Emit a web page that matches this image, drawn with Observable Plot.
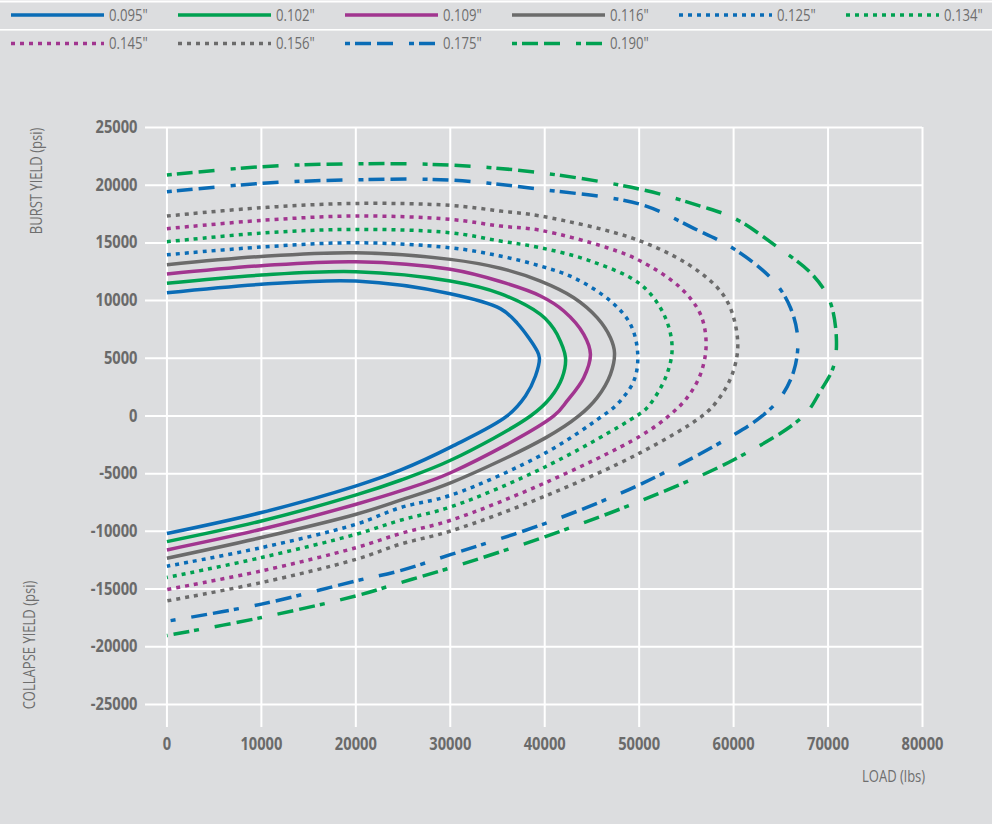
<!DOCTYPE html>
<html><head><meta charset="utf-8">
<script src="https://cdn.jsdelivr.net/npm/d3@7"></script>
<script src="https://cdn.jsdelivr.net/npm/@observablehq/plot@0.6"></script>
<style>
html,body{margin:0;padding:0;background:#dcdddf;}
#wrap{position:relative;width:992px;height:824px;background:#dcdddf;overflow:hidden;font-family:"Open Sans",sans-serif;}
#legend{position:absolute;left:0;top:0;}
#chart{position:absolute;left:0;top:60px;}
.lab{position:absolute;color:#6e6e6e;font-size:15.5px;font-weight:400;white-space:nowrap;line-height:1;}
.rot{transform:translate(-50%,-50%) rotate(-90deg) scale(0.84,1);}
.sq{transform-origin:right center;transform:scale(0.84,1);}
</style></head><body>
<div id="wrap">
<svg id="legend" width="992" height="60"></svg>
<div id="chart"></div>
<div class="lab rot" style="left:37px;top:181px;">BURST YIELD (psi)</div>
<div class="lab rot" style="left:30px;top:645px;">COLLAPSE YIELD (psi)</div>
<div class="lab sq" style="right:67px;top:769px;">LOAD (lbs)</div>
</div>
<script>
// ---- data ----
const thickness = ['0.095"','0.102"','0.109"','0.116"','0.125"','0.134"','0.145"','0.156"','0.175"','0.190"'];
const xTicks = [0,10000,20000,30000,40000,50000,60000,70000,80000];
const yTicks = [25000,20000,15000,10000,5000,0,-5000,-10000,-15000,-20000,-25000];

const load095 = [0,10000,20000,30000,35300,37080,39200,39440,39020,37960,36020,30090,24720,20040,10010,0];
const psi095  = [10680,11410,11690,10590,9300,8050,5630,5020,3460,1730,0,-2680,-4700,-6060,-8370,-10190];

const load102 = [0,10000,20000,30000,35300,39550,40610,41310,42200,41850,40610,38490,30090,24720,20040,10010,0];
const psi102  = [11500,12210,12500,11690,10600,8810,7940,7080,5050,3320,1590,0,-3820,-5570,-6840,-9100,-10890];

const load109 = [0,10000,20000,30000,35300,39550,42020,44130,44840,44130,42370,40960,30090,24720,20040,10010,0];
const psi109  = [12300,13020,13370,12710,11650,10400,9100,7080,5340,3320,1300,0,-4900,-6500,-7650,-9820,-11610];

const load116 = [0,10000,20000,30000,35300,39550,43080,45550,46960,47390,46960,45550,43600,40080,30090,24720,20040,10010,0];
const psi116  = [13110,13830,14150,13570,12800,11690,10250,8520,6780,5480,3610,1590,0,-1900,-5780,-7300,-8520,-10540,-12330];

const load125 = [0,10000,20000,30000,35300,39550,43080,46960,49080,49850,49430,47670,46110,40080,30090,24720,20040,10010,0];
const psi125  = [13970,14640,15010,14580,13860,12990,11980,9960,7940,5340,3030,1010,0,-3200,-6860,-7940,-9380,-11410,-13020];

const load134 = [0,10000,20000,30000,35300,39550,44840,50140,52610,53490,52790,50850,49710,40080,30090,24720,20040,10010,0];
const psi134  = [15100,15850,16170,15880,15160,14580,13430,11410,8810,5920,3320,720,0,-4400,-7870,-9040,-10250,-12270,-14000];

const load145 = [0,10000,20000,30000,35300,39550,46610,50140,54370,56490,57090,56490,55080,53130,50140,40080,30090,24720,20040,10010,0];
const psi145  = [16230,16950,17330,17040,16460,16090,14580,13430,11110,8810,6210,3610,1590,0,-1730,-5780,-9030,-10190,-11410,-13430,-15040];

const load156 = [0,10000,20000,30000,35300,39550,50140,56490,59310,60440,59850,58260,56670,50140,40080,30090,24720,20040,10010,0];
const psi156  = [17330,18050,18420,18250,17760,17330,15160,12410,9960,6350,3610,1300,0,-3180,-6930,-9960,-11110,-12420,-14440,-16030];

const load175 = [0,10000,20000,30000,39550,50140,55780,60120,64250,66020,66800,66370,64960,63020,60120,50140,40080,30090,24720,20040,10010,0];
const psi175  = [19430,20160,20470,20440,19640,18340,16260,14440,11690,9380,6640,3900,1590,0,-1590,-5920,-9300,-12000,-13400,-14290,-16310,-17790];

const load190 = [0,10000,20000,30000,39550,50140,56490,60120,64250,68320,70190,70890,70540,69200,67400,60120,50140,40080,30090,24720,20040,10010,0];
const psi190  = [20880,21600,21860,21740,21080,19640,18190,17120,14870,12270,9960,6500,4190,2170,0,-3750,-7360,-10450,-13140,-14450,-15590,-17470,-19030];

// ---- styles ----
const BLUE="#0a6cb6", GREEN="#00a151", PURPLE="#a1358f", GRAY="#6b6b6b";
const SOLID=null, DOT="4,5", DASHDOT="5,5,16,6,16,16";
const loads=[load095,load102,load109,load116,load125,load134,load145,load156,load175,load190];
const psis=[psi095,psi102,psi109,psi116,psi125,psi134,psi145,psi156,psi175,psi190];
const colors=[BLUE,GREEN,PURPLE,GRAY,BLUE,GREEN,PURPLE,GRAY,BLUE,GREEN];
const dashes=[SOLID,SOLID,SOLID,SOLID,DOT,DOT,DOT,DOT,DASHDOT,DASHDOT];

const lineMarks = thickness.map((t,i)=>Plot.line(loads[i], {
  x: loads[i], y: psis[i], stroke: colors[i], strokeWidth: 3.5,
  strokeDasharray: dashes[i] || undefined, strokeLinecap: "butt", strokeLinejoin: "round",
  curve: "catmull-rom"
}));

const chart = Plot.plot({
  width: 992, height: 764,
  marginLeft: 145, marginRight: 70, marginTop: 67, marginBottom: 97,
  x: {domain: [-2270, 80000]},
  y: {domain: [-27000, 25000]},
  style: {background: "transparent", fontFamily: '"Open Sans",sans-serif', fontSize: "17.5px", fontWeight: "bold", color: "#6a6a6a", overflow: "visible"},
  marks: [
    Plot.gridX(xTicks, {stroke: "#ffffff", strokeOpacity: 1, strokeWidth: 2}),
    Plot.gridY(yTicks, {stroke: "#ffffff", strokeOpacity: 1, strokeWidth: 2}),
    Plot.axisX(xTicks, {tickSize: 0, tickPadding: 10, label: null, tickFormat: d => String(d)}),
    Plot.axisY(yTicks, {tickSize: 0, tickPadding: 8, label: null, tickFormat: d => String(d)}),
    ...lineMarks
  ]
});
document.getElementById("chart").appendChild(chart);

// condense tick label glyphs horizontally (condensed face not installed)
function squeeze(el, k){
  const x = parseFloat(el.getAttribute("x")) || 0;
  const t = el.getAttribute("transform") || "";
  el.setAttribute("transform", `${t} translate(${x},0) scale(${k},1) translate(${-x},0)`);
}
d3.select(chart).selectAll('g[aria-label$="tick label"] text').each(function(){ squeeze(this, 0.84); });

// ---- legend ----
const leg = d3.select("#legend");
leg.append("rect").attr("x",0).attr("y",0.5).attr("width",992).attr("height",2).attr("fill","#ffffff");
leg.append("rect").attr("x",0).attr("y",29).attr("width",992).attr("height",1.6).attr("fill","#ffffff");
thickness.forEach((t,i)=>{
  const col=i%6, row=Math.floor(i/6);
  const x0=11+col*167, y=row===0?15:43.5;
  leg.append("line").attr("x1",x0).attr("x2",x0+93).attr("y1",y).attr("y2",y)
    .attr("stroke",colors[i]).attr("stroke-width",3.5)
    .attr("stroke-dasharray",dashes[i]).attr("stroke-linecap","butt");
  leg.append("text").attr("transform",`translate(${x0+98},${y}) scale(0.82,1)`).attr("dy","0.36em")
    .attr("fill","#6e6e6e").attr("font-size","16px").attr("font-weight",400)
    .attr("font-family",'"Open Sans",sans-serif')
    .text(t);
});
</script>
</body></html>
